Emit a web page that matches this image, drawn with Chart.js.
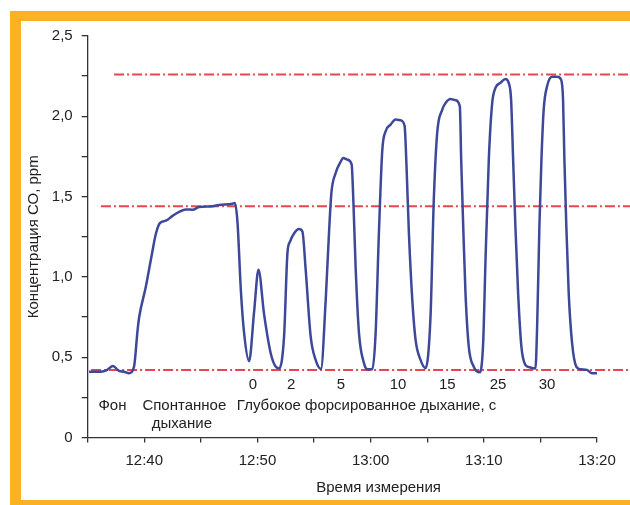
<!DOCTYPE html>
<html>
<head>
<meta charset="utf-8">
<script src="https://cdn.jsdelivr.net/npm/chart.js@4/dist/chart.umd.min.js"></script>
<style>
  body { margin: 0; background: #fff; }
  #wrap { position: relative; width: 630px; height: 505px; overflow: hidden; }
  .bar { position: absolute; background: #fcb124; }
  canvas { position: absolute; left: 0; top: 0; }
</style>
</head>
<body>
<div id="wrap">
  <div class="bar" style="left:10px;top:11px;width:620px;height:10px"></div>
  <div class="bar" style="left:10px;top:11px;width:11px;height:494px"></div>
  <div class="bar" style="left:10px;top:500px;width:620px;height:5px"></div>
  <canvas id="chart" width="630" height="505"></canvas>
</div>
<script>
// time in minutes after 12:00
var timeMin = [35.12, 36.17, 36.7, 37.23, 37.76, 38.2, 38.64, 39.09, 39.41, 39.55,
  40.14, 40.59, 41.03, 41.38, 41.91, 42.5, 43.08, 43.67, 44.26, 44.85,
  46.03, 46.61, 47.79, 48.0, 48.24, 48.53, 48.82, 49.26, 49.7, 50.09,
  50.58, 51.17, 51.62, 51.92, 52.35, 52.65, 52.88, 53.23, 53.67, 53.97,
  54.26, 54.7, 55.14, 55.61, 56.03, 56.32, 56.53, 56.91, 57.29, 57.59,
  57.94, 58.32, 58.47, 58.67, 58.97, 59.41, 59.71, 60.15, 60.44, 60.73,
  61.03, 61.32, 61.76, 62.2, 62.65, 63.0, 63.17, 63.38, 63.68, 63.97,
  64.41, 64.85, 65.29, 65.58, 65.88, 66.32, 66.62, 67.06, 67.5, 67.88,
  68.0, 68.18, 68.38, 68.67, 69.11, 69.64, 69.94, 70.15, 70.44, 70.74,
  71.03, 71.47, 71.91, 72.2, 72.41, 72.59, 72.79, 73.03, 73.32, 73.67,
  73.94, 74.56, 74.71, 74.91, 75.09, 75.29, 75.59, 76.03, 76.47, 76.82,
  77.0, 77.12, 77.29, 77.5, 77.8, 78.17, 78.53, 79.12, 79.56, 80.0];
var coPpm = [0.41, 0.41, 0.42, 0.445, 0.415, 0.41, 0.40, 0.44, 0.67, 0.75,
  0.94, 1.11, 1.27, 1.335, 1.35, 1.38, 1.405, 1.42, 1.418, 1.435,
  1.44, 1.448, 1.455, 1.46, 1.335, 0.92, 0.65, 0.475, 0.78, 1.045,
  0.77, 0.525, 0.44, 0.43, 0.63, 1.15, 1.22, 1.27, 1.298, 1.283,
  1.045, 0.63, 0.483, 0.427, 0.857, 1.273, 1.522, 1.647, 1.709, 1.74,
  1.73, 1.70, 1.48, 1.065, 0.65, 0.463, 0.425, 0.425, 0.65, 1.273,
  1.79, 1.906, 1.948, 1.98, 1.975, 1.94, 1.688, 1.273, 0.857, 0.608,
  0.483, 0.431, 0.753, 1.48, 1.897, 2.04, 2.083, 2.108, 2.10, 2.062,
  1.73, 1.314, 0.899, 0.566, 0.441, 0.406, 0.587, 1.107, 1.73, 2.083,
  2.177, 2.208, 2.233, 2.208, 2.104, 1.73, 1.314, 0.899, 0.566, 0.452,
  0.44, 0.43, 0.69, 1.314, 1.73, 2.042, 2.187, 2.246, 2.246, 2.229,
  2.104, 1.73, 1.314, 0.899, 0.587, 0.441, 0.425, 0.421, 0.40, 0.40];

// dash-dot reference levels
var refLevels = [0.42, 1.44, 2.26];
var refStart = [35.3, 36.17, 37.33];
var refEnd = 83;

// text under the curve: [text, x (min), y (ppm), align]
var notes = [
  ["0", 49.59, 0.33, "center"],
  ["2", 52.98, 0.33, "center"],
  ["5", 57.37, 0.33, "center"],
  ["10", 62.42, 0.33, "center"],
  ["15", 66.77, 0.33, "center"],
  ["25", 71.25, 0.33, "center"],
  ["30", 75.59, 0.33, "center"],
  ["Фон", 35.95, 0.196, "left"],
  ["Спонтанное", 43.54, 0.196, "center"],
  ["дыхание", 43.32, 0.088, "center"],
  ["Глубокое форсированное дыхание, с", 48.18, 0.196, "left"]
];
var xTitle = "Время измерения";
var xTitleAt = 60.7; // centred a bit right of 13:00, as in the original

var fontFam = '"Liberation Sans", Arial, sans-serif';
Chart.defaults.font.family = fontFam;
Chart.defaults.font.size = 15;
Chart.defaults.color = "#222";

function fmtTime(v) {
  var h = 12 + Math.floor(v / 60), m = Math.round(v % 60);
  return h + ":" + (m < 10 ? "0" + m : m);
}

var datasets = [{
  data: timeMin.map(function(t, i) { return {x: t, y: coPpm[i]}; }),
  borderColor: "#3d4898",
  borderWidth: 2.5,
  pointRadius: 0,
  cubicInterpolationMode: "monotone",
  order: 0
}];
for (var i = 0; i < refLevels.length; i++) {
  datasets.push({
    data: [{x: refStart[i], y: refLevels[i]}, {x: refEnd, y: refLevels[i]}],
    borderColor: "rgba(226,50,60,0.9)",
    borderWidth: 2,
    borderDash: [10, 3, 2, 3],
    pointRadius: 0,
    clip: false,
    order: 1
  });
}

var notesPlugin = {
  id: "notes",
  afterDatasetsDraw: function(chart) {
    var ctx = chart.ctx, xs = chart.scales.x, ys = chart.scales.y;
    ctx.save();
    ctx.font = "15px " + fontFam;
    ctx.fillStyle = "#222";
    ctx.textBaseline = "middle";
    notes.forEach(function(n) {
      ctx.textAlign = n[3];
      ctx.fillText(n[0], xs.getPixelForValue(n[1]), ys.getPixelForValue(n[2]));
    });
    // x axis title
    ctx.textAlign = "center";
    ctx.fillText(xTitle, xs.getPixelForValue(xTitleAt), xs.bottom - 17);
    ctx.restore();
  }
};

new Chart(document.getElementById("chart"), {
  type: "line",
  data: { datasets: datasets },
  plugins: [notesPlugin],
  options: {
    responsive: false,
    animation: false,
    layout: { padding: { top: 36, right: 33, left: 0, bottom: 0 } },
    plugins: { legend: { display: false }, tooltip: { enabled: false } },
    scales: {
      x: {
        type: "linear",
        min: 35, max: 80,
        afterFit: function(s) { s.height = 67.5; },
        ticks: {
          stepSize: 5,
          padding: 9,
          maxRotation: 0,
          autoSkip: false,
          callback: function(v) { return (v % 10 === 0) ? fmtTime(v) : ""; }
        },
        grid: { drawOnChartArea: false, tickLength: 5, color: "#333", lineWidth: 1.3 },
        border: { color: "#333", width: 1.3 }
      },
      y: {
        min: 0, max: 2.5,
        afterFit: function(s) { s.width = 87.7; },
        ticks: {
          stepSize: 0.25,
          padding: 9,
          autoSkip: false,
          callback: function(v) {
            if (Math.abs(v * 2 - Math.round(v * 2)) > 1e-6) return "";
            return v === 0 ? "0" : v.toFixed(1).replace(".", ",");
          }
        },
        grid: { drawOnChartArea: false, tickLength: 6, color: "#333", lineWidth: 1.3 },
        border: { color: "#333", width: 1.3 },
        title: { display: true, text: "Концентрация СО, ppm", padding: { top: 25, bottom: 0 } }
      }
    }
  }
});
</script>
</body>
</html>
